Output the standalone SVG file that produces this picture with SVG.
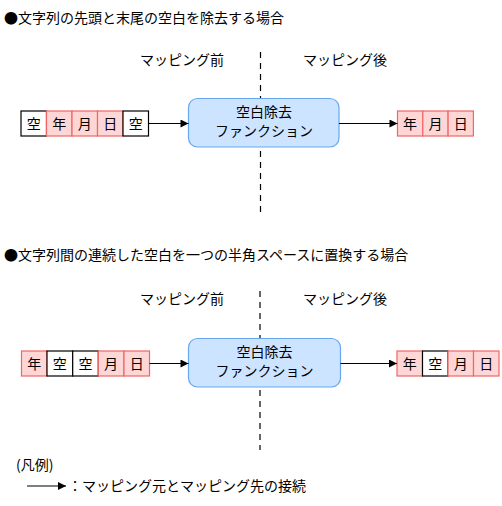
<svg xmlns="http://www.w3.org/2000/svg" width="502" height="506" viewBox="0 0 502 506">
<defs>
<style>
text{font-family:"Noto Sans CJK JP","Noto Sans",sans-serif;font-size:14px;fill:#000}
.c{text-anchor:middle}
.p{fill:#ffd6d6;stroke:#ee6666;stroke-width:1.2}
.w{fill:#fff;stroke:#000;stroke-width:1.2}
.fn{fill:#cce4ff;stroke:#66a8f0;stroke-width:1.2}
.conn{stroke:#000;stroke-width:1.2;fill:none;marker-end:url(#ah)}
.dash{stroke:#000;stroke-width:1.2;stroke-dasharray:6,5}
</style>
<marker id="ah" viewBox="0 0 10 10" refX="10" refY="5" markerWidth="10" markerHeight="8" markerUnits="userSpaceOnUse" orient="auto"><path d="M0,0 L10,5 L0,10 z" fill="#000"/></marker>
</defs>
<rect width="502" height="506" fill="#fff"/>
<text x="4" y="23">●文字列の先頭と末尾の空白を除去する場合</text>
<text x="140" y="65">マッピング前</text>
<text x="303" y="65">マッピング後</text>
<line class="dash" x1="260.5" y1="52" x2="260.5" y2="212"/>
<g id="src1">
<rect class="w" x="21" y="111" width="25.5" height="25"/><text class="c" x="33.7" y="128.5">空</text>
<rect class="p" x="46.5" y="111" width="25.5" height="25"/><text class="c" x="59.2" y="128.5">年</text>
<rect class="p" x="72" y="111" width="25.5" height="25"/><text class="c" x="84.7" y="128.5">月</text>
<rect class="p" x="97.5" y="111" width="25.5" height="25"/><text class="c" x="110.2" y="128.5">日</text>
<rect class="w" x="123" y="111" width="25.5" height="25"/><text class="c" x="135.7" y="128.5">空</text>
</g>
<g id="fn1">
<rect class="fn" x="188.5" y="98.5" width="150.5" height="48.5" rx="9"/>
<text class="c" x="264" y="117">空白除去</text>
<text class="c" x="264" y="136">ファンクション</text>
</g>
<g id="dst1">
<rect class="p" x="397.5" y="111" width="25.3" height="25"/><text class="c" x="410.1" y="128.5">年</text>
<rect class="p" x="422.8" y="111" width="25.3" height="25"/><text class="c" x="435.4" y="128.5">月</text>
<rect class="p" x="448.1" y="111" width="25.3" height="25"/><text class="c" x="460.7" y="128.5">日</text>
</g>
<text x="4" y="260">●文字列間の連続した空白を一つの半角スペースに置換する場合</text>
<text x="140" y="304">マッピング前</text>
<text x="303" y="304">マッピング後</text>
<line class="dash" x1="260" y1="291" x2="260" y2="450"/>
<g id="src2">
<rect class="p" x="21.5" y="351" width="25.5" height="25"/><text class="c" x="34.2" y="368.5">年</text>
<rect class="w" x="47" y="351" width="25.7" height="25"/><text class="c" x="59.8" y="368.5">空</text>
<rect class="w" x="72.7" y="351" width="25.6" height="25"/><text class="c" x="85.5" y="368.5">空</text>
<rect class="p" x="98.3" y="351" width="25.7" height="25"/><text class="c" x="111.1" y="368.5">月</text>
<rect class="p" x="124" y="351" width="25.5" height="25"/><text class="c" x="136.7" y="368.5">日</text>
</g>
<g id="fn2">
<rect class="fn" x="188.5" y="338.5" width="152" height="48.5" rx="9"/>
<text class="c" x="264.5" y="357">空白除去</text>
<text class="c" x="264.5" y="376">ファンクション</text>
</g>
<g id="dst2">
<rect class="p" x="397" y="351" width="25.5" height="25"/><text class="c" x="409.7" y="368.5">年</text>
<rect class="w" x="422.5" y="351" width="25.5" height="25"/><text class="c" x="435.2" y="368.5">空</text>
<rect class="p" x="448" y="351" width="25.5" height="25"/><text class="c" x="460.7" y="368.5">月</text>
<rect class="p" x="473.5" y="351" width="25.5" height="25"/><text class="c" x="486.2" y="368.5">日</text>
</g>
<g id="legend">
<text x="16" y="470">(凡例)</text>
<line class="conn" x1="27" y1="486" x2="66" y2="486"/>
<text x="68" y="491">：マッピング元とマッピング先の接続</text>
</g>
<g id="connectors">
<line class="conn" x1="148.5" y1="123.5" x2="188.5" y2="123.5"/>
<line class="conn" x1="339" y1="123.5" x2="397.5" y2="123.5"/>
<line class="conn" x1="149.5" y1="363.5" x2="188.5" y2="363.5"/>
<line class="conn" x1="340.5" y1="363.5" x2="397" y2="363.5"/>
</g>
</svg>
